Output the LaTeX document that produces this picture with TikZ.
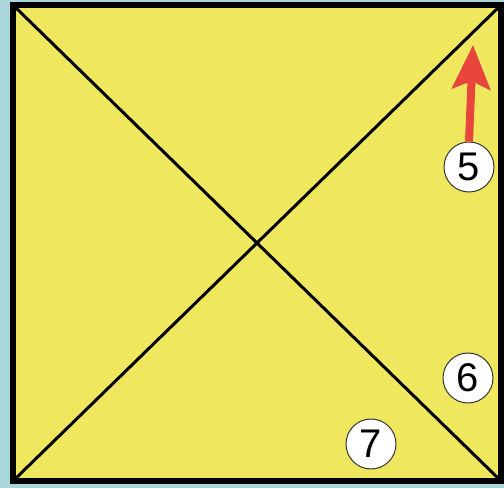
\documentclass[tikz,border=0pt]{standalone}
\usepackage{fontspec}
\setmainfont{Liberation Sans}
\usetikzlibrary{arrows.meta}
\definecolor{bgblue}{HTML}{A9D6DA}
\definecolor{sqyellow}{HTML}{EFE85E}
\definecolor{arrred}{HTML}{E8453C}
\tikzset{
  numcircle/.style={circle, draw=black!80, line width=1pt, fill=white, minimum size=50pt, inner sep=0pt, font=\fontsize{40}{40}\selectfont},
  diag/.style={line width=3pt, black},
  frame/.style={line width=6pt, black, fill=sqyellow},
  redarrow/.style={line width=8pt, arrred, -{Stealth[length=44pt, width=38pt, inset=8pt]}}
}
\begin{document}
\begin{tikzpicture}[x=1pt,y=1pt]
\fill[bgblue] (0,0) rectangle (504,488);
\useasboundingbox (0,0) rectangle (504,488);
\coordinate (bl) at (13,7);
\coordinate (br) at (501,7);
\coordinate (tr) at (501,483);
\coordinate (tl) at (13,483);
\draw[frame] (bl) rectangle (tr);
\draw[diag] (tl) -- (br);
\draw[diag] (bl) -- (tr);
\node[numcircle] (n5) at (469,321) {5};
\node[numcircle] (n6) at (468,110) {6};
\node[numcircle] (n7) at (371,44) {7};
\coordinate (tip) at (473,443);
\draw[redarrow] (n5.north) -- (tip);
\end{tikzpicture}
\end{document}
